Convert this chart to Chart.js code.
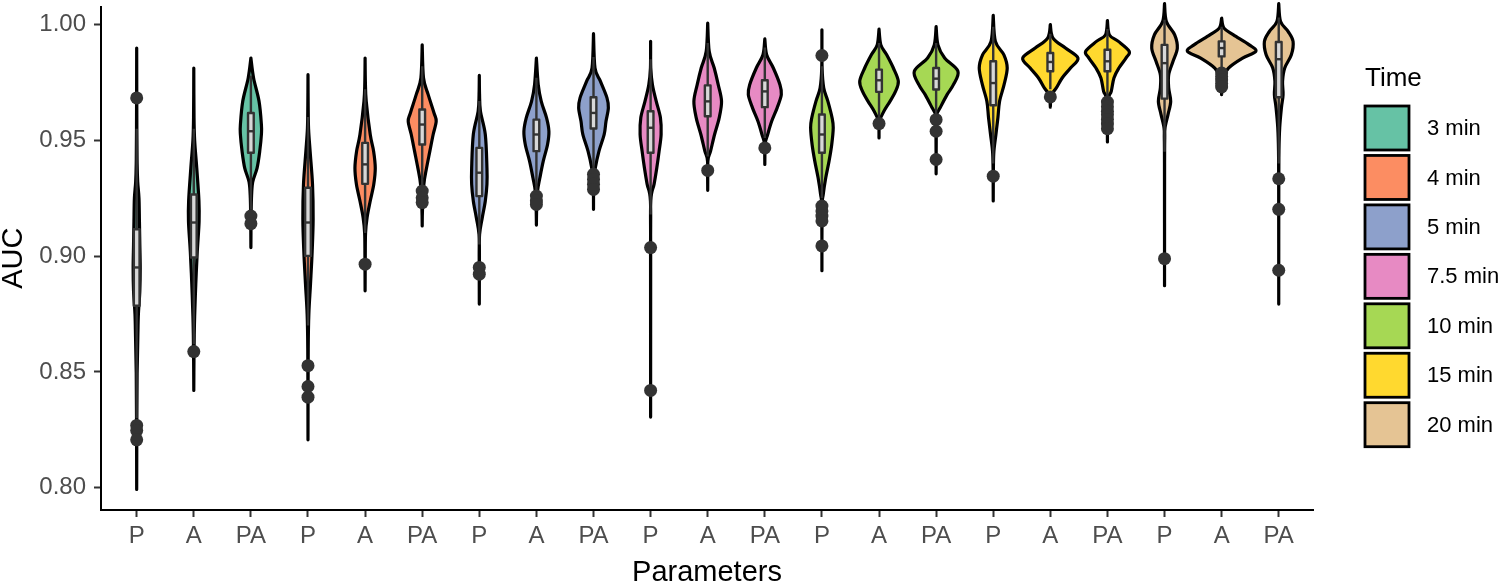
<!DOCTYPE html>
<html>
<head>
<meta charset="utf-8">
<script src="https://cdn.jsdelivr.net/npm/chart.js@4.4.1/dist/chart.umd.min.js"></script>
<style>
  body { margin: 0; background: #fff; }
  #wrap { width: 1500px; height: 582px; position: relative; }
</style>
</head>
<body>
<div id="wrap"><canvas id="myChart"></canvas></div>
<script>
// categories along the x axis, three per time group
const categories = ['P','A','PA','P','A','PA','P','A','PA','P','A','PA','P','A','PA','P','A','PA','P','A','PA'];
const timeGroups = ['3 min','4 min','5 min','7.5 min','10 min','15 min','20 min'];
const yTicks = [0.80, 0.85, 0.90, 0.95, 1.00];

// box plot statistics (AUC) per category
const whiskerLow  = [0.830,0.862,0.920,0.870,0.910,0.930,0.905,0.928,0.938,0.918,0.943,0.951,0.925,0.960,0.960,0.940,0.972,0.968,0.945,0.980,0.940];
const q1          = [0.8786,0.8994,0.9446,0.9001,0.9312,0.9482,0.9259,0.9453,0.9551,0.9446,0.9604,0.9643,0.9446,0.9709,0.9719,0.9651,0.9798,0.9798,0.968,0.9862,0.9686];
const medians     = [0.8951,0.9145,0.9539,0.9145,0.9396,0.9568,0.936,0.9525,0.9618,0.9554,0.9668,0.9711,0.9525,0.9759,0.9766,0.9747,0.9838,0.9841,0.9833,0.9898,0.985];
const q3          = [0.9116,0.9266,0.9618,0.9295,0.9489,0.9633,0.9467,0.9589,0.9686,0.9625,0.9737,0.9759,0.9611,0.9805,0.9812,0.9841,0.9877,0.9891,0.9912,0.9927,0.9924];
const whiskerHigh = [0.955,0.955,0.978,0.960,0.972,0.982,0.967,0.977,0.986,0.985,0.992,0.990,0.982,0.992,0.992,0.999,0.996,0.998,1.002,0.999,1.003];

// outlying AUC values per category
const outliers = [
  [0.9683,0.8269,0.8247,0.8207],
  [0.8588],
  [0.9173,0.9140],
  [0.8527,0.8437,0.8391],
  [0.8965],
  [0.9281,0.9252,0.9231],
  [0.8951,0.8922],
  [0.9259,0.9238,0.9223],
  [0.9353,0.9331,0.9310,0.9288],
  [0.9037,0.8420],
  [0.9370],
  [0.9467],
  [0.9866,0.9216,0.9195,0.9173,0.9152,0.9044],
  [0.9572],
  [0.9589,0.9539,0.9417],
  [0.9345],
  [0.9687],
  [0.9665,0.9645,0.9625,0.9610,0.9590,0.9570,0.9550],
  [0.8989],
  [0.9790,0.9775,0.9760,0.9745,0.9730],
  [0.9334,0.9202,0.8939]
];

// violin outlines: [AUC, half width in category units], bottom to top
const densities = [
  [[0.7993,0],[0.83,0.003],[0.85,0.008],[0.865,0.02],[0.875,0.03],[0.885,0.055],[0.895,0.062],[0.905,0.055],[0.915,0.048],[0.925,0.04],[0.932,0.018],[0.94,0.008],[0.955,0.003],[0.9898,0]],
  [[0.842,0],[0.855,0.003],[0.866,0.008],[0.874,0.015],[0.888,0.035],[0.902,0.061],[0.915,0.093],[0.924,0.09],[0.938,0.052],[0.95,0.015],[0.96,0.004],[0.9812,0]],
  [[0.9037,0],[0.915,0.003],[0.925,0.01],[0.932,0.032],[0.938,0.108],[0.9453,0.155],[0.9525,0.184],[0.9568,0.184],[0.9668,0.143],[0.9769,0.047],[0.9855,0]],
  [[0.8207,0],[0.86,0.004],[0.875,0.015],[0.888,0.044],[0.902,0.073],[0.916,0.09],[0.931,0.079],[0.945,0.038],[0.955,0.01],[0.965,0.003],[0.9783,0]],
  [[0.885,0],[0.9,0.003],[0.91,0.008],[0.9167,0.035],[0.9238,0.09],[0.931,0.152],[0.938,0.178],[0.9453,0.149],[0.9525,0.09],[0.9668,0.02],[0.975,0.005],[0.9855,0]],
  [[0.913,0],[0.92,0.005],[0.931,0.029],[0.938,0.076],[0.9453,0.134],[0.9525,0.192],[0.9582,0.245],[0.9618,0.207],[0.9697,0.105],[0.9769,0.023],[0.9912,0]],
  [[0.8793,0],[0.9,0.002],[0.9094,0.005],[0.9166,0.052],[0.9238,0.105],[0.931,0.134],[0.938,0.134],[0.9525,0.105],[0.9625,0.02],[0.97,0.004],[0.978,0]],
  [[0.9134,0],[0.92,0.004],[0.9281,0.02],[0.9338,0.061],[0.941,0.12],[0.9482,0.195],[0.9539,0.219],[0.9597,0.178],[0.9668,0.085],[0.974,0.032],[0.9855,0]],
  [[0.9202,0],[0.9324,0.004],[0.9381,0.032],[0.9453,0.096],[0.9525,0.187],[0.9582,0.219],[0.964,0.26],[0.9683,0.236],[0.9755,0.12],[0.9812,0.026],[0.996,0]],
  [[0.8305,0],[0.9,0.001],[0.9238,0.003],[0.931,0.061],[0.938,0.108],[0.9453,0.149],[0.9525,0.184],[0.9597,0.172],[0.9668,0.099],[0.974,0.032],[0.9812,0.003],[0.9927,0]],
  [[0.9284,0],[0.941,0.003],[0.9453,0.05],[0.9525,0.12],[0.9597,0.201],[0.9668,0.242],[0.974,0.184],[0.9812,0.114],[0.9884,0.026],[1.0006,0]],
  [[0.9396,0],[0.9482,0.003],[0.9525,0.05],[0.9582,0.12],[0.964,0.216],[0.9697,0.289],[0.974,0.265],[0.9812,0.149],[0.9869,0.032],[0.9938,0]],
  [[0.8937,0],[0.9209,0.003],[0.9266,0.023],[0.9338,0.067],[0.941,0.125],[0.9482,0.172],[0.9554,0.198],[0.9597,0.178],[0.9668,0.105],[0.9726,0.032],[0.9812,0.003],[0.9977,0]],
  [[0.951,0],[0.9582,0.01],[0.9625,0.085],[0.9668,0.192],[0.9711,0.289],[0.9755,0.338],[0.9812,0.251],[0.9869,0.134],[0.9912,0.032],[0.998,0]],
  [[0.9355,0],[0.955,0.003],[0.961,0.01],[0.964,0.07],[0.9697,0.192],[0.974,0.303],[0.9798,0.382],[0.9855,0.149],[0.9912,0.032],[0.9991,0]],
  [[0.9238,0],[0.9381,0.003],[0.9453,0.012],[0.9525,0.047],[0.9597,0.082],[0.9668,0.111],[0.974,0.19],[0.9812,0.245],[0.9869,0.187],[0.9927,0.038],[1.0039,0]],
  [[0.9643,0],[0.969,0.005],[0.9726,0.105],[0.9769,0.207],[0.9812,0.353],[0.9855,0.484],[0.9898,0.265],[0.9941,0.047],[0.9999,0]],
  [[0.9493,0],[0.9668,0.008],[0.9711,0.067],[0.9769,0.114],[0.9812,0.201],[0.9855,0.324],[0.9884,0.382],[0.9927,0.192],[0.9955,0.035],[1.0017,0]],
  [[0.8872,0],[0.94,0.001],[0.951,0.004],[0.9554,0.009],[0.9611,0.061],[0.9668,0.108],[0.9726,0.073],[0.9783,0.073],[0.9841,0.149],[0.9898,0.224],[0.9955,0.178],[1.0013,0.032],[1.009,0]],
  [[0.9697,0],[0.9726,0.005],[0.9769,0.023],[0.9812,0.12],[0.9855,0.367],[0.9884,0.6],[0.9912,0.484],[0.9955,0.207],[0.9984,0.041],[1.0027,0]],
  [[0.8793,0],[0.93,0.001],[0.9453,0.004],[0.9554,0.017],[0.964,0.047],[0.9697,0.076],[0.9755,0.067],[0.9812,0.105],[0.9869,0.221],[0.9927,0.251],[0.997,0.163],[1.0013,0.032],[1.009,0]]
];

const palette = ['#66C2A5','#FC8D62','#8DA0CB','#E78AC3','#A6D854','#FFD92F','#E5C494'];
const FONT = '"Liberation Sans", Arial, sans-serif';

// smooth curve through points (Catmull-Rom as bezier)
function curveThrough(ctx, pts) {
    for (let i = 0; i < pts.length - 1; i++) {
        const p0 = pts[Math.max(i - 1, 0)], p1 = pts[i], p2 = pts[i + 1], p3 = pts[Math.min(i + 2, pts.length - 1)];
        ctx.bezierCurveTo(
            p1[0] + (p2[0] - p0[0]) / 6, p1[1] + (p2[1] - p0[1]) / 6,
            p2[0] - (p3[0] - p1[0]) / 6, p2[1] - (p3[1] - p1[1]) / 6,
            p2[0], p2[1]);
    }
}

const violinPlugin = {
    id: 'violins',
    beforeDatasetsDraw(chart) {
        const {ctx, chartArea, scales} = chart;
        const xs = scales.x, ys = scales.y;
        ctx.save();
        // the panel reaches the top edge of the picture
        ctx.beginPath();
        ctx.rect(chartArea.left, 0, chartArea.right - chartArea.left, chartArea.bottom);
        ctx.clip();

        densities.forEach((prof, i) => {
            const c = i + 1;
            const right = prof.map(([v, w]) => [xs.getPixelForValue(c + w), ys.getPixelForValue(v)]);
            const left = prof.map(([v, w]) => [xs.getPixelForValue(c - w), ys.getPixelForValue(v)]).reverse();
            ctx.beginPath();
            ctx.moveTo(right[0][0], right[0][1]);
            curveThrough(ctx, right);
            curveThrough(ctx, left);
            ctx.closePath();
            ctx.fillStyle = palette[Math.floor(i / 3)];
            ctx.fill();
            ctx.lineWidth = 3.2;
            ctx.lineJoin = 'round';
            ctx.strokeStyle = '#000';
            ctx.stroke();
        });

        // box plots on top of the violins
        const half = 0.05;
        categories.forEach((cat, i) => {
            const c = i + 1;
            const xc = xs.getPixelForValue(c);
            const xl = xs.getPixelForValue(c - half), xr = xs.getPixelForValue(c + half);
            ctx.strokeStyle = '#333';
            ctx.lineWidth = 2.4;
            ctx.beginPath();
            ctx.moveTo(xc, ys.getPixelForValue(whiskerLow[i]));
            ctx.lineTo(xc, ys.getPixelForValue(q1[i]));
            ctx.moveTo(xc, ys.getPixelForValue(q3[i]));
            ctx.lineTo(xc, ys.getPixelForValue(whiskerHigh[i]));
            ctx.stroke();
            const yt = ys.getPixelForValue(q3[i]), yb = ys.getPixelForValue(q1[i]);
            ctx.fillStyle = '#d8d8d8';
            ctx.fillRect(xl, yt, xr - xl, yb - yt);
            ctx.strokeRect(xl, yt, xr - xl, yb - yt);
            const ym = ys.getPixelForValue(medians[i]);
            ctx.beginPath();
            ctx.moveTo(xl, ym);
            ctx.lineTo(xr, ym);
            ctx.stroke();
        });
        ctx.restore();
    }
};

const legendPlugin = {
    id: 'timeLegend',
    afterDraw(chart) {
        const {ctx, chartArea} = chart;
        const x0 = chartArea.right + 51;
        ctx.save();
        ctx.fillStyle = '#000';
        ctx.font = '26px ' + FONT;
        ctx.textBaseline = 'alphabetic';
        ctx.textAlign = 'left';
        ctx.fillText('Time', x0 + 1, 86);
        timeGroups.forEach((name, g) => {
            const top = 106 + g * 49.45;
            ctx.fillStyle = palette[g];
            ctx.fillRect(x0 + 1, top, 44, 44);
            ctx.lineWidth = 2.8;
            ctx.strokeStyle = '#000';
            ctx.strokeRect(x0 + 1, top, 44, 44);
            ctx.fillStyle = '#000';
            ctx.font = '22px ' + FONT;
            ctx.textBaseline = 'middle';
            ctx.fillText(name, x0 + 63, top + 23);
        });
        ctx.restore();
    }
};

const datasets = timeGroups.map((name, g) => {
    const pts = [];
    for (let i = g * 3; i < g * 3 + 3; i++) {
        outliers[i].forEach(v => pts.push({x: i + 1, y: v}));
    }
    return {
        label: name,
        data: pts,
        pointRadius: 6.5,
        pointHoverRadius: 6.5,
        pointBackgroundColor: '#333333',
        pointBorderWidth: 0,
        showLine: false
    };
});

new Chart(document.getElementById('myChart').getContext('2d'), {
    type: 'scatter',
    data: { datasets: datasets },
    plugins: [violinPlugin, legendPlugin],
    options: {
        responsive: true,
        maintainAspectRatio: false,
        animation: false,
        layout: { padding: { left: 0, top: 0, right: 187, bottom: 0 } },
        plugins: {
            legend: { display: false },
            tooltip: { enabled: false }
        },
        scales: {
            x: {
                type: 'linear',
                min: 0.375,
                max: 21.6,
                afterBuildTicks: (s) => { s.ticks = categories.map((c, i) => ({value: i + 1})); },
                afterFit: (s) => { s.height = 72; s.paddingLeft = 0; s.paddingRight = 0; },
                ticks: {
                    autoSkip: false,
                    maxRotation: 0,
                    minRotation: 0,
                    padding: 5,
                    color: '#4d4d4d',
                    font: { size: 24, family: FONT },
                    callback: (v) => categories[Math.round(v) - 1] || ''
                },
                grid: { drawOnChartArea: false, drawTicks: true, tickLength: 7, tickWidth: 2, tickColor: '#333' },
                border: { display: true, color: '#000', width: 2 },
                title: {
                    display: true,
                    text: 'Parameters',
                    color: '#000',
                    font: { size: 29, family: FONT, lineHeight: 1 },
                    padding: { top: 0, bottom: -5 }
                }
            },
            y: {
                min: 0.7904,
                max: 1.00775,
                afterBuildTicks: (s) => { s.ticks = yTicks.map(v => ({value: v})); },
                afterFit: (s) => { s.width = 101; s.paddingTop = 0; s.paddingBottom = 0; },
                ticks: {
                    padding: 8,
                    color: '#4d4d4d',
                    font: { size: 24, family: FONT },
                    callback: (v) => v.toFixed(2)
                },
                grid: { drawOnChartArea: false, drawTicks: true, tickLength: 7, tickWidth: 2, tickColor: '#333' },
                border: { display: true, color: '#000', width: 2 },
                title: {
                    display: true,
                    text: 'AUC',
                    color: '#000',
                    font: { size: 29, family: FONT, lineHeight: 1 },
                    padding: { top: -1, bottom: 0 }
                }
            }
        }
    }
});
</script>
</body>
</html>
